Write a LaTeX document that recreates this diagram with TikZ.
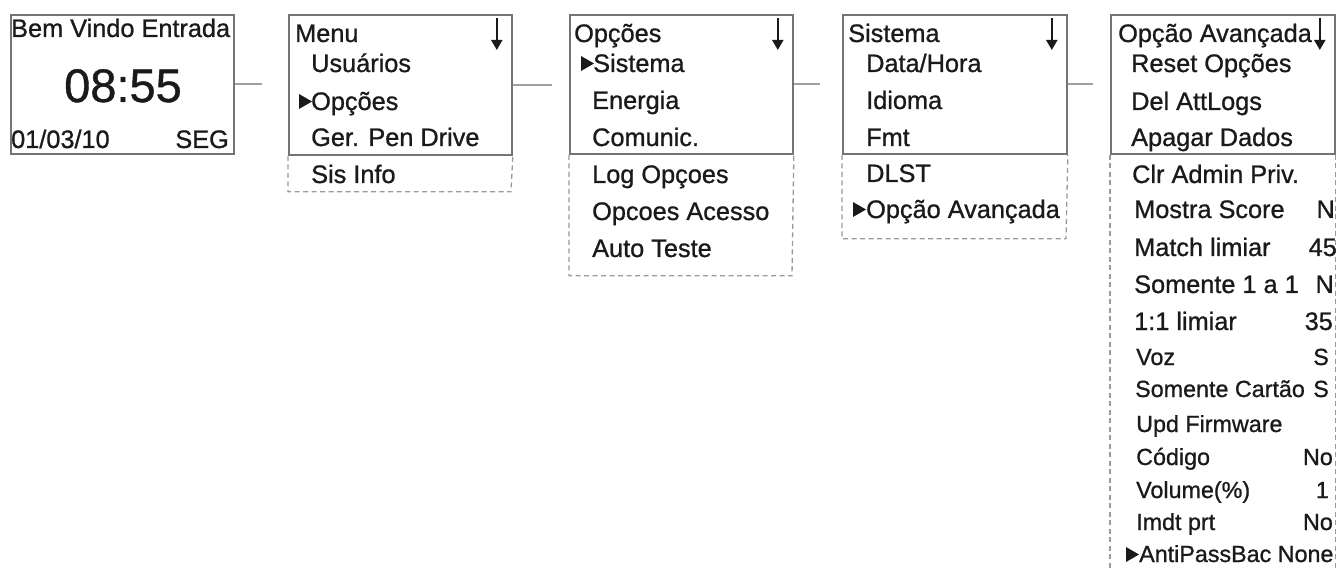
\documentclass[tikz,border=0pt]{standalone}
\usepackage{fontspec}
\setmainfont{Liberation Sans}[FakeBold=0.9]
\usetikzlibrary{arrows.meta}
\definecolor{boxgray}{HTML}{747474}
\definecolor{dashgray}{HTML}{9A9A9A}
\definecolor{conngray}{HTML}{A0A0A0}
\definecolor{txt}{HTML}{1A1A1A}
\tikzset{
  box/.style={draw=boxgray, line width=1.8pt, inner sep=0pt, anchor=north west},
  dbox/.style={draw=dashgray, line width=1.3pt, dash pattern=on 5pt off 3.5pt},
  conn/.style={draw=conngray, line width=1.8pt},
  lbl/.style={inner sep=0pt, anchor=base west, text=txt, font=\fontsize{25.3}{30}\selectfont},
  sml/.style={lbl, font=\fontsize{23.3}{28}\selectfont},
  val/.style={lbl, anchor=base east},
  sval/.style={sml, anchor=base east},
  big/.style={inner sep=0pt, anchor=base, text=txt, font=\fontsize{47}{50}\selectfont},
  down/.style={draw=txt, line width=2pt, -{Triangle[width=11pt,length=10pt]}},
  ptr/.style={fill=txt}
}
\begin{document}
\begin{tikzpicture}[x=1pt,y=-1pt]
\useasboundingbox (0,0) rectangle (1338,569);

% boxes
\node[box, minimum width=223pt, minimum height=139pt] (b1) at (10,14) {};
\node[box, minimum width=223pt, minimum height=140pt] (b2) at (288,14) {};
\node[box, minimum width=223pt, minimum height=139pt] (b3) at (569,14) {};
\node[box, minimum width=224pt, minimum height=139pt] (b4) at (842,14) {};
\node[box, minimum width=224pt, minimum height=139pt] (b5) at (1110,14) {};

% dashed extensions
\draw[dbox] (b2.south west) -- ++(0,36) -- ++(223,0) -- (b2.south east);
\draw[dbox] (b3.south west) -- ++(0,121) -- ++(223,0) -- (b3.south east);
\draw[dbox] (b4.south west) -- ++(0,84) -- ++(224,0) -- (b4.south east);
\draw[dbox] (b5.south west) -- ++(0,420);
\draw[dbox] (b5.south east) -- ++(0,420);

% connectors
\draw[conn, shorten >=26pt] (b1.east) -- (b1.east -| b2.west);
\draw[conn, shorten >=17pt] (b2.east) -- (b2.east -| b3.west);
\draw[conn, shorten >=22pt] (b3.east) -- (b3.east -| b4.west);
\draw[conn, shorten >=17pt] (b4.east) -- (b4.east -| b5.west);

% scroll arrows
\draw[down] ([xshift=-16pt,yshift=-4pt]b2.north east) -- ++(0,32);
\draw[down] ([xshift=-16pt,yshift=-4pt]b3.north east) -- ++(0,32);
\draw[down] ([xshift=-16pt,yshift=-4pt]b4.north east) -- ++(0,32);
\draw[down] ([xshift=-16pt,yshift=-4pt]b5.north east) -- ++(0,32);

% box 1
\node[lbl] (t11) at (11,37) {Bem Vindo Entrada};
\node[big] (t12) at (123,102) {08:55};
\node[lbl] (t13) at (11,148) {01/03/10};
\node[val] (t14) at (229,148) {SEG};

% box 2
\node[lbl] (t21) at (295,42) {Menu};
\node[lbl] (t22) at (311,72) {Usuários};
\fill[ptr] (299,94) -- (312,101.5) -- (299,109) -- cycle;
\node[lbl] (t23) at (311,110) {Opções};
\node[lbl] (t24) at (311,146) {Ger. Pen Drive};
\node[lbl] (t25) at (311,183) {Sis Info};

% box 3
\node[lbl] (t31) at (574,42) {Opções};
\fill[ptr] (581,56) -- (594,63.5) -- (581,71) -- cycle;
\node[lbl] (t32) at (593,72) {Sistema};
\node[lbl] (t33) at (592,109) {Energia};
\node[lbl] (t34) at (592,146) {Comunic.};
\node[lbl] (t35) at (592,183) {Log Opçoes};
\node[lbl] (t36) at (592,220) {Opcoes Acesso};
\node[lbl] (t37) at (592,257) {Auto Teste};

% box 4
\node[lbl] (t41) at (848,42) {Sistema};
\node[lbl] (t42) at (866,72) {Data/Hora};
\node[lbl] (t43) at (866,109) {Idioma};
\node[lbl] (t44) at (866,146) {Fmt};
\node[lbl] (t45) at (866,182) {DLST};
\fill[ptr] (853,202) -- (866,209.5) -- (853,217) -- cycle;
\node[lbl] (t46) at (866,218) {Opção Avançada};

% box 5
\node[lbl] (t51) at (1118,42) {Opção Avançada};
\node[lbl] (t52) at (1131,72) {Reset Opções};
\node[lbl] (t53) at (1131,110) {Del AttLogs};
\node[lbl] (t54) at (1131,146) {Apagar Dados};
\node[lbl] (t55) at (1132,183) {Clr Admin Priv.};
\node[lbl] (t56) at (1134,218) {Mostra Score};
\node[val] (v56) at (1335,218) {N};
\node[lbl] (t57) at (1134,256) {Match limiar};
\node[val] (v57) at (1337,256) {45};
\node[lbl] (t58) at (1134,293) {Somente 1 a 1};
\node[val] (v58) at (1334,293) {N};
\node[lbl] (t59) at (1134,330) {1:1 limiar};
\node[val] (v59) at (1333,330) {35};
\node[sml] (t60) at (1136,365) {Voz};
\node[sval] (v60) at (1329,365) {S};
\node[sml] (t61) at (1135,397) {Somente Cartão};
\node[sval] (v61) at (1329,397) {S};
\node[sml] (t62) at (1136,432) {Upd Firmware};
\node[sml] (t63) at (1136,465) {Código};
\node[sval] (v63) at (1333,465) {No};
\node[sml] (t64) at (1136,498) {Volume(\%)};
\node[sval] (v64) at (1329,498) {1};
\node[sml] (t65) at (1136,530) {Imdt prt};
\node[sval] (v65) at (1333,530) {No};
\fill[ptr] (1126,547) -- (1139,554.5) -- (1126,562) -- cycle;
\node[sml] (t66) at (1139,562) {AntiPassBac None};
\end{tikzpicture}
\end{document}
